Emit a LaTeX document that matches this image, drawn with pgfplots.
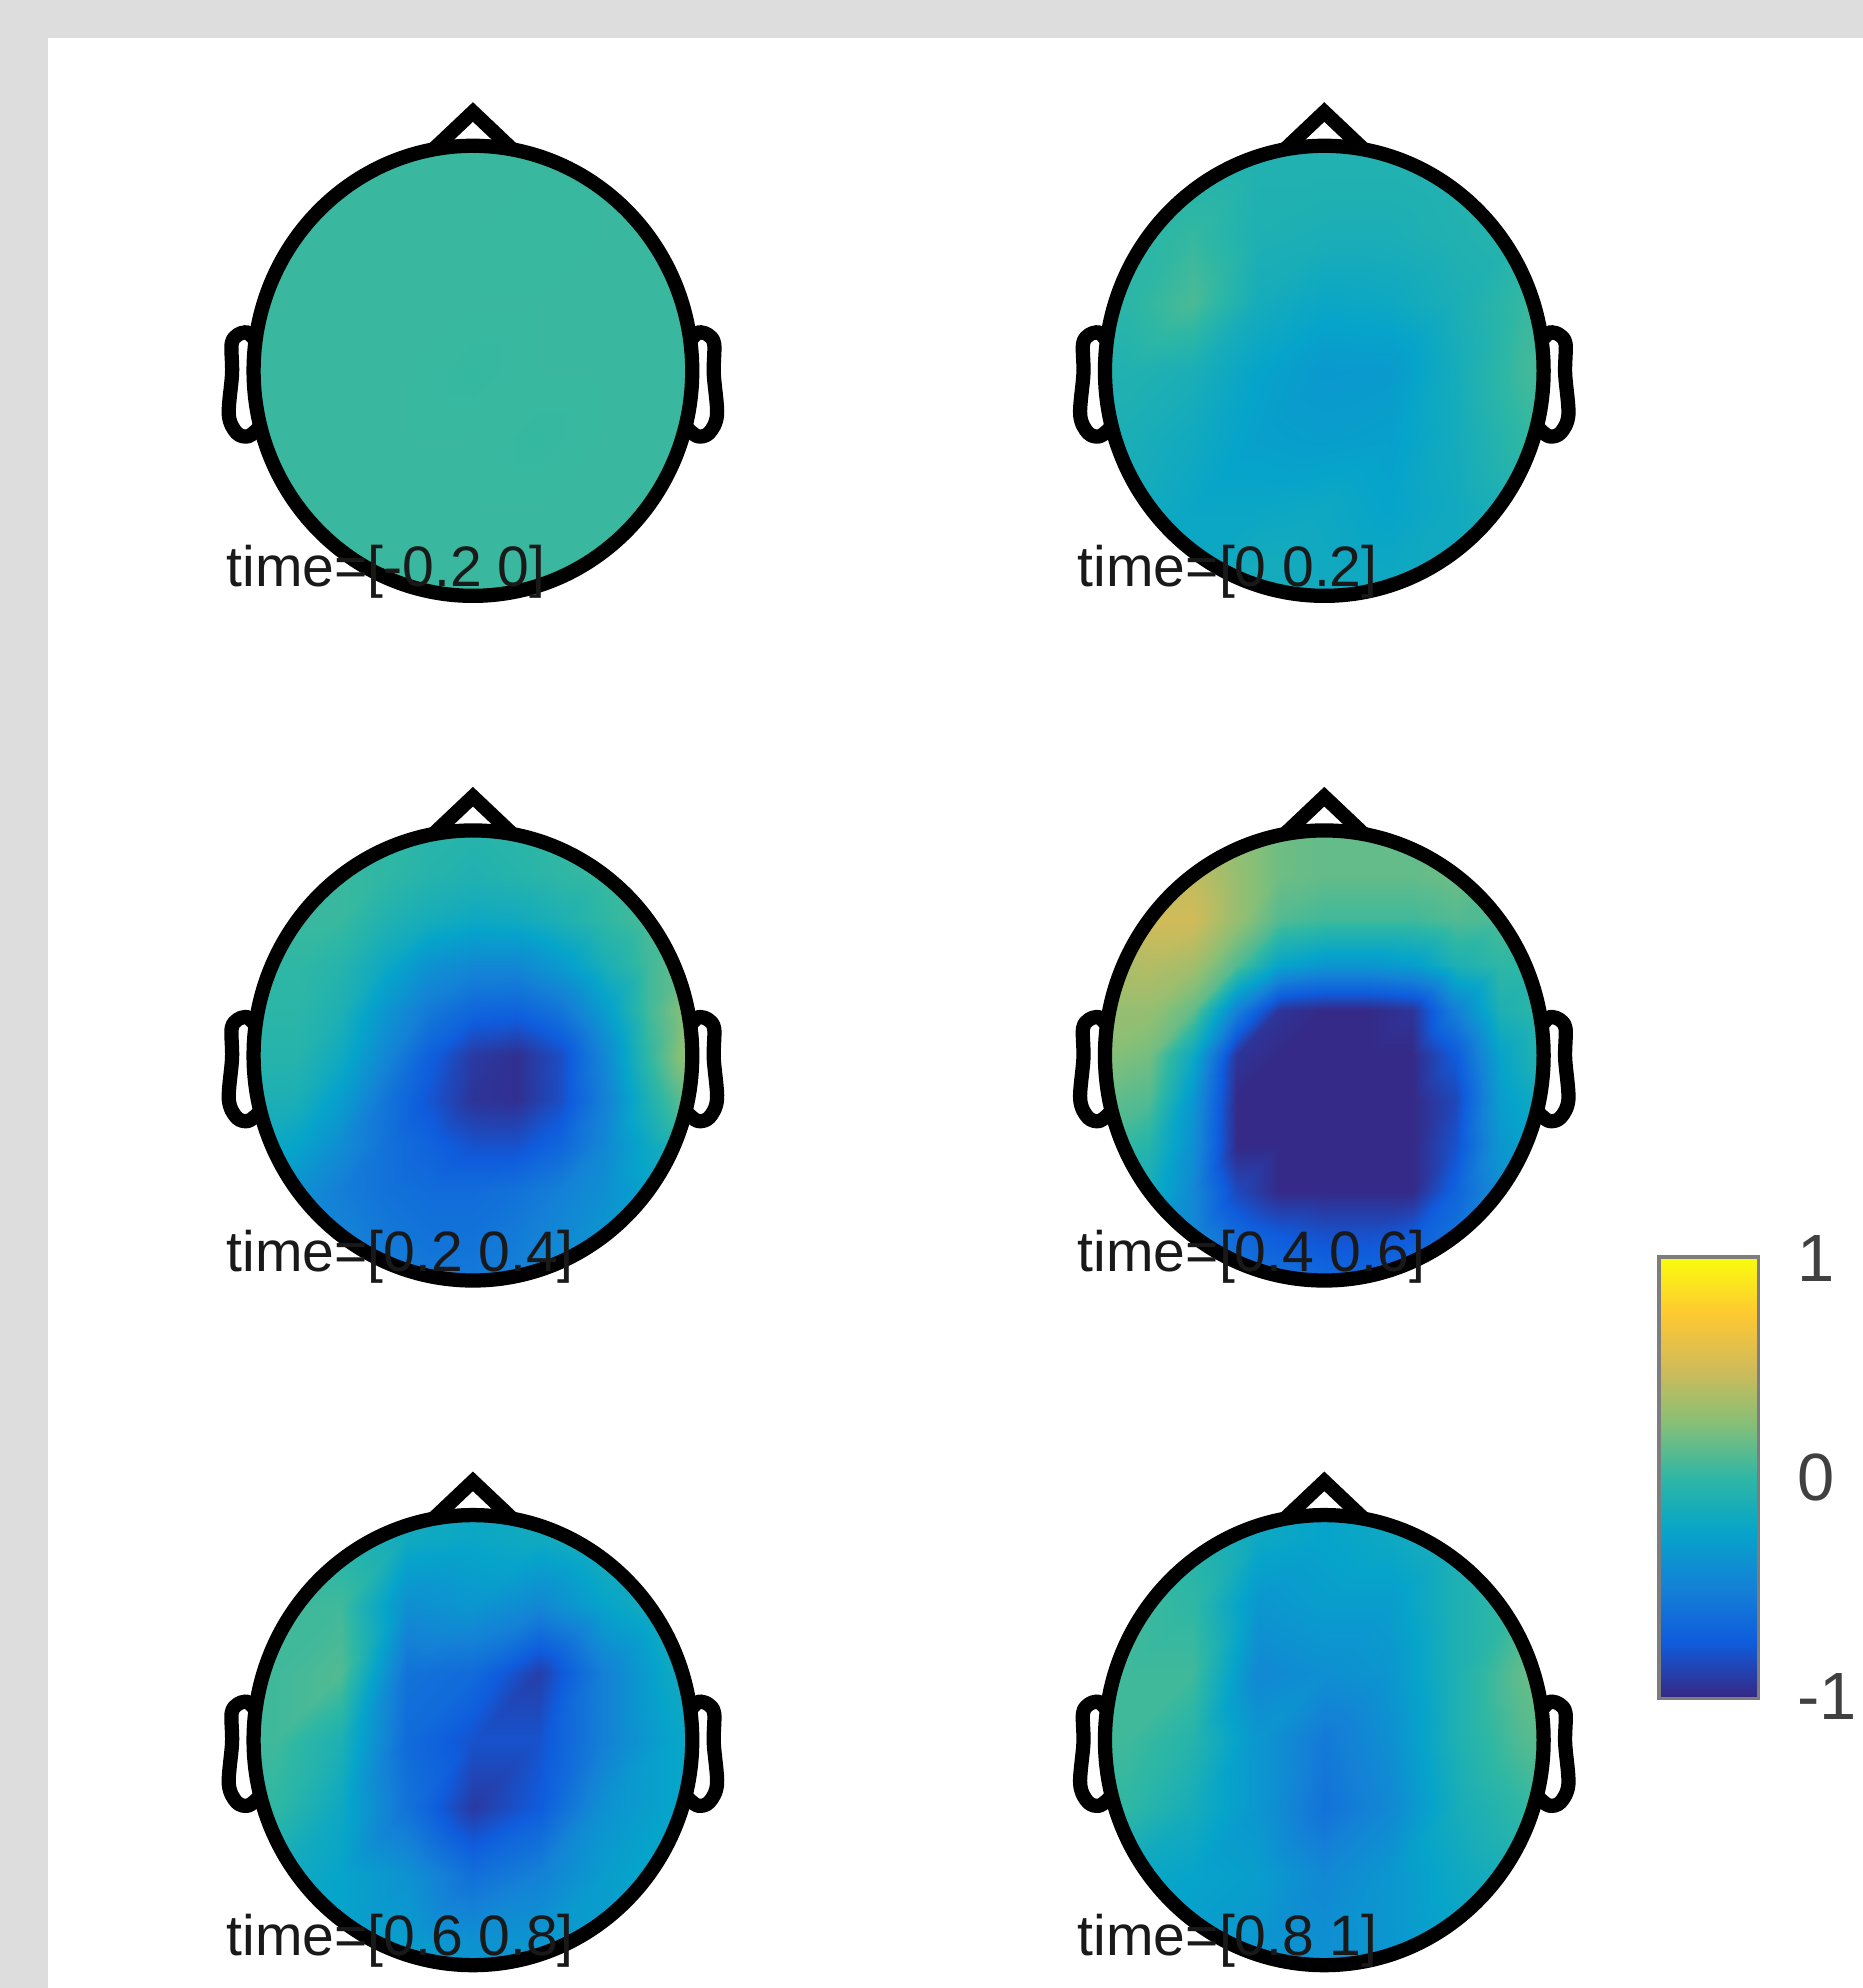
\documentclass[border=0pt]{standalone}
\usepackage{pgfplots}
\pgfplotsset{compat=1.18}
\usepackage{pgfplotstable}
\usepackage{fontspec}
\setmainfont{Liberation Sans}
\definecolor{bggray}{RGB}{221,221,221}
\definecolor{cbgray}{RGB}{125,125,125}
\pgfplotsset{colormap={parula}{rgb255=(53,42,135) rgb255=(15,92,221) rgb255=(20,129,214) rgb255=(6,164,202) rgb255=(46,183,164) rgb255=(135,191,119) rgb255=(209,187,89) rgb255=(254,200,50) rgb255=(249,251,14)}}

% coarse grid (step 0.3): a=[-0.2 0], b=[0 0.2], e=[0.6 0.8], f=[0.8 1]
\pgfplotstableread{
x y a b e f
-1.2 1.2 0.03 -0.05 0.00 0.00
-0.9 1.2 0.03 -0.05 0.00 0.00
-0.6 1.2 0.03 -0.05 -0.05 -0.05
-0.3 1.2 0.03 -0.06 -0.15 -0.20
0.0 1.2 0.03 -0.06 -0.20 -0.25
0.3 1.2 0.03 -0.06 -0.15 -0.20
0.6 1.2 0.03 -0.05 -0.10 -0.10
0.9 1.2 0.03 -0.05 -0.05 0.00
1.2 1.2 0.03 -0.05 0.00 0.05
-1.2 0.9 0.03 -0.05 0.00 0.00
-0.9 0.9 0.03 -0.05 0.00 0.00
-0.6 0.9 0.03 -0.06 -0.05 -0.05
-0.3 0.9 0.03 -0.08 -0.18 -0.20
0.0 0.9 0.03 -0.08 -0.22 -0.25
0.3 0.9 0.03 -0.08 -0.18 -0.20
0.6 0.9 0.03 -0.06 -0.10 -0.10
0.9 0.9 0.03 -0.04 -0.05 0.00
1.2 0.9 0.03 -0.04 0.00 0.05
-1.2 0.6 0.03 -0.03 0.05 0.05
-0.9 0.6 0.03 -0.03 0.05 0.05
-0.6 0.6 0.03 0.02 0.05 0.00
-0.3 0.6 0.03 -0.10 -0.40 -0.35
0.0 0.6 0.03 -0.12 -0.35 -0.30
0.3 0.6 0.025 -0.12 -0.45 -0.30
0.6 0.6 0.03 -0.08 -0.25 -0.10
0.9 0.6 0.03 -0.04 -0.10 0.05
1.2 0.6 0.03 0.00 -0.05 0.15
-1.2 0.3 0.03 -0.02 0.05 0.05
-0.9 0.3 0.03 -0.02 0.05 0.05
-0.6 0.3 0.03 0.08 0.10 0.05
-0.3 0.3 0.03 -0.15 -0.60 -0.45
0.0 0.3 0.03 -0.22 -0.65 -0.40
0.3 0.3 0.03 -0.20 -0.90 -0.35
0.6 0.3 0.03 -0.12 -0.50 -0.10
0.9 0.3 0.03 0.02 -0.20 0.15
1.2 0.3 0.03 0.08 -0.10 0.25
-1.2 0.0 0.03 -0.08 0.05 0.05
-0.9 0.0 0.03 -0.08 0.05 0.05
-0.6 0.0 0.03 -0.12 -0.10 -0.05
-0.3 0.0 0.03 -0.25 -0.65 -0.35
0.0 0.0 0.02 -0.33 -0.80 -0.55
0.3 0.0 0.03 -0.32 -0.80 -0.40
0.6 0.0 0.03 -0.15 -0.50 -0.10
0.9 0.0 0.03 0.05 -0.25 0.10
1.2 0.0 0.03 0.12 -0.15 0.20
-1.2 -0.3 0.03 -0.12 0.00 0.00
-0.9 -0.3 0.03 -0.12 0.00 0.00
-0.6 -0.3 0.03 -0.18 -0.20 -0.15
-0.3 -0.3 0.03 -0.28 -0.60 -0.35
0.0 -0.3 0.03 -0.30 -0.92 -0.60
0.3 -0.3 0.02 -0.28 -0.75 -0.45
0.6 -0.3 0.03 -0.16 -0.38 -0.15
0.9 -0.3 0.03 0.00 -0.25 0.00
1.2 -0.3 0.03 0.05 -0.15 0.10
-1.2 -0.6 0.03 -0.15 -0.15 -0.20
-0.9 -0.6 0.03 -0.15 -0.15 -0.20
-0.6 -0.6 0.03 -0.22 -0.25 -0.25
-0.3 -0.6 0.03 -0.22 -0.38 -0.30
0.0 -0.6 0.03 -0.20 -0.62 -0.45
0.3 -0.6 0.03 -0.25 -0.50 -0.35
0.6 -0.6 0.03 -0.18 -0.30 -0.20
0.9 -0.6 0.03 -0.08 -0.20 -0.10
1.2 -0.6 0.03 -0.05 -0.15 -0.05
-1.2 -0.9 0.03 -0.18 -0.20 -0.25
-0.9 -0.9 0.03 -0.18 -0.20 -0.25
-0.6 -0.9 0.03 -0.20 -0.25 -0.30
-0.3 -0.9 0.03 -0.15 -0.30 -0.35
0.0 -0.9 0.03 -0.18 -0.38 -0.40
0.3 -0.9 0.03 -0.20 -0.35 -0.35
0.6 -0.9 0.03 -0.18 -0.30 -0.25
0.9 -0.9 0.03 -0.12 -0.20 -0.15
1.2 -0.9 0.03 -0.10 -0.15 -0.10
-1.2 -1.2 0.03 -0.18 -0.20 -0.25
-0.9 -1.2 0.03 -0.18 -0.20 -0.25
-0.6 -1.2 0.03 -0.20 -0.25 -0.30
-0.3 -1.2 0.03 -0.15 -0.30 -0.35
0.0 -1.2 0.03 -0.18 -0.35 -0.40
0.3 -1.2 0.03 -0.20 -0.35 -0.35
0.6 -1.2 0.03 -0.18 -0.30 -0.25
0.9 -1.2 0.03 -0.12 -0.20 -0.15
1.2 -1.2 0.03 -0.10 -0.15 -0.10
}\topo

% fine grid (step 0.2): c=[0.2 0.4], d=[0.4 0.6]
\pgfplotstableread{
x y c d
-1.2 1.2 0.00 0.35
-1.0 1.2 0.00 0.35
-0.8 1.2 0.00 0.35
-0.6 1.2 0.00 0.30
-0.4 1.2 0.00 0.20
-0.2 1.2 -0.02 0.15
0.0 1.2 -0.02 0.15
0.2 1.2 0.00 0.15
0.4 1.2 0.02 0.15
0.6 1.2 0.05 0.15
0.8 1.2 0.08 0.12
1.0 1.2 0.10 0.10
1.2 1.2 0.10 0.10
-1.2 1.0 0.00 0.40
-1.0 1.0 0.00 0.40
-0.8 1.0 0.00 0.40
-0.6 1.0 0.00 0.35
-0.4 1.0 0.00 0.25
-0.2 1.0 -0.03 0.18
0.0 1.0 -0.05 0.15
0.2 1.0 -0.02 0.15
0.4 1.0 0.02 0.15
0.6 1.0 0.05 0.18
0.8 1.0 0.08 0.12
1.0 1.0 0.10 0.10
1.2 1.0 0.10 0.10
-1.2 0.8 0.02 0.45
-1.0 0.8 0.02 0.45
-0.8 0.8 0.02 0.50
-0.6 0.8 0.03 0.45
-0.4 0.8 0.00 0.30
-0.2 0.8 -0.05 0.18
0.0 0.8 -0.08 0.15
0.2 0.8 -0.05 0.15
0.4 0.8 0.00 0.15
0.6 0.8 0.03 0.18
0.8 0.8 0.08 0.12
1.0 0.8 0.12 0.08
1.2 0.8 0.12 0.08
-1.2 0.6 0.02 0.45
-1.0 0.6 0.02 0.45
-0.8 0.6 0.03 0.50
-0.6 0.6 0.03 0.50
-0.4 0.6 -0.08 0.30
-0.2 0.6 -0.15 0.10
0.0 0.6 -0.20 0.05
0.2 0.6 -0.18 0.05
0.4 0.6 -0.10 0.05
0.6 0.6 0.00 0.10
0.8 0.6 0.08 0.08
1.0 0.6 0.15 0.05
1.2 0.6 0.15 0.05
-1.2 0.4 0.00 0.35
-1.0 0.4 0.00 0.35
-0.8 0.4 0.00 0.40
-0.6 0.4 -0.05 0.35
-0.4 0.4 -0.20 0.10
-0.2 0.4 -0.38 -0.25
0.0 0.4 -0.45 -0.35
0.2 0.4 -0.45 -0.35
0.4 0.4 -0.32 -0.30
0.6 0.4 -0.12 -0.10
0.8 0.4 0.05 0.00
1.0 0.4 0.20 0.00
1.2 0.4 0.25 0.00
-1.2 0.2 -0.02 0.30
-1.0 0.2 -0.02 0.30
-0.8 0.2 -0.02 0.30
-0.6 0.2 -0.10 0.15
-0.4 0.2 -0.35 -0.50
-0.2 0.2 -0.55 -0.95
0.0 0.2 -0.68 -1.05
0.2 0.2 -0.70 -1.05
0.4 0.2 -0.58 -0.95
0.6 0.2 -0.30 -0.50
0.8 0.2 0.05 -0.10
1.0 0.2 0.30 0.00
1.2 0.2 0.35 0.00
-1.2 0.0 -0.05 0.25
-1.0 0.0 -0.05 0.25
-0.8 0.0 -0.05 0.20
-0.6 0.0 -0.18 -0.20
-0.4 0.0 -0.45 -0.95
-0.2 0.0 -0.72 -1.20
0.0 0.0 -0.92 -1.20
0.2 0.0 -0.97 -1.20
0.4 0.0 -0.82 -1.15
0.6 0.0 -0.45 -0.75
0.8 0.0 0.00 -0.25
1.0 0.0 0.35 -0.05
1.2 0.0 0.40 -0.05
-1.2 -0.2 -0.10 0.15
-1.0 -0.2 -0.10 0.15
-0.8 -0.2 -0.12 0.10
-0.6 -0.2 -0.30 -0.35
-0.4 -0.2 -0.58 -1.05
-0.2 -0.2 -0.78 -1.20
0.0 -0.2 -0.95 -1.20
0.2 -0.2 -0.97 -1.20
0.4 -0.2 -0.82 -1.20
0.6 -0.2 -0.50 -0.85
0.8 -0.2 -0.10 -0.30
1.0 -0.2 0.20 -0.15
1.2 -0.2 0.25 -0.15
-1.2 -0.4 -0.20 0.05
-1.0 -0.4 -0.20 0.05
-0.8 -0.4 -0.25 -0.05
-0.6 -0.4 -0.42 -0.40
-0.4 -0.4 -0.60 -1.00
-0.2 -0.4 -0.70 -1.20
0.0 -0.4 -0.80 -1.20
0.2 -0.4 -0.80 -1.20
0.4 -0.4 -0.68 -1.15
0.6 -0.4 -0.45 -0.80
0.8 -0.4 -0.20 -0.35
1.0 -0.4 -0.05 -0.20
1.2 -0.4 -0.05 -0.20
-1.2 -0.6 -0.25 -0.10
-1.0 -0.6 -0.25 -0.10
-0.8 -0.6 -0.38 -0.15
-0.6 -0.6 -0.52 -0.45
-0.4 -0.6 -0.60 -0.85
-0.2 -0.6 -0.64 -1.10
0.0 -0.6 -0.64 -1.15
0.2 -0.6 -0.60 -1.15
0.4 -0.6 -0.50 -1.00
0.6 -0.6 -0.40 -0.70
0.8 -0.6 -0.25 -0.40
1.0 -0.6 -0.15 -0.25
1.2 -0.6 -0.15 -0.25
-1.2 -0.8 -0.30 -0.20
-1.0 -0.8 -0.30 -0.20
-0.8 -0.8 -0.38 -0.25
-0.6 -0.8 -0.48 -0.45
-0.4 -0.8 -0.56 -0.65
-0.2 -0.8 -0.60 -0.75
0.0 -0.8 -0.60 -0.80
0.2 -0.8 -0.54 -0.80
0.4 -0.8 -0.45 -0.75
0.6 -0.8 -0.35 -0.60
0.8 -0.8 -0.25 -0.45
1.0 -0.8 -0.20 -0.35
1.2 -0.8 -0.20 -0.35
-1.2 -1.0 -0.30 -0.25
-1.0 -1.0 -0.30 -0.25
-0.8 -1.0 -0.35 -0.30
-0.6 -1.0 -0.45 -0.45
-0.4 -1.0 -0.50 -0.55
-0.2 -1.0 -0.55 -0.60
0.0 -1.0 -0.55 -0.65
0.2 -1.0 -0.50 -0.65
0.4 -1.0 -0.42 -0.60
0.6 -1.0 -0.35 -0.55
0.8 -1.0 -0.25 -0.45
1.0 -1.0 -0.20 -0.40
1.2 -1.0 -0.20 -0.40
-1.2 -1.2 -0.30 -0.30
-1.0 -1.2 -0.30 -0.30
-0.8 -1.2 -0.35 -0.35
-0.6 -1.2 -0.45 -0.45
-0.4 -1.2 -0.50 -0.55
-0.2 -1.2 -0.55 -0.60
0.0 -1.2 -0.55 -0.60
0.2 -1.2 -0.50 -0.60
0.4 -1.2 -0.42 -0.60
0.6 -1.2 -0.35 -0.55
0.8 -1.2 -0.25 -0.45
1.0 -1.2 -0.20 -0.40
1.2 -1.2 -0.20 -0.40
}\topofine

\pgfplotsset{headax/.style={anchor=center, x=1.73cm, y=1.775cm,
  xmin=-1.2, xmax=1.2, ymin=-1.2, ymax=1.2, hide axis,
  colormap name=parula, point meta min=-1, point meta max=1}}

\newcommand{\headoutline}[3]{%
 \begin{scope}[shift={(#1cm,#2cm)}]
  \begin{scope}[xscale=1.73, yscale=1.775, line width=3.2pt]
   \draw (0,0) circle [radius=1];
   \draw[line join=miter] (-0.18,0.984) -- (0,1.15) -- (0.18,0.984);
   \draw[line join=round] plot[smooth, tension=0.55] coordinates {(-0.981,0.125) (-1.024,0.168) (-1.043,0.170) (-1.072,0.160) (-1.1,0.12) (-1.098,-0.012) (-1.113,-0.195) (-1.077,-0.276) (-1.024,-0.291) (-0.974,-0.252)};
   \draw[line join=round] plot[smooth, tension=0.55] coordinates {(0.981,0.125) (1.024,0.168) (1.043,0.170) (1.072,0.160) (1.1,0.12) (1.098,-0.012) (1.113,-0.195) (1.077,-0.276) (1.024,-0.291) (0.974,-0.252)};
  \end{scope}
  \node[anchor=base west, inner sep=0pt, text=black!90, font=\fontsize{12.8}{15}\selectfont] at (-1.95cm,-1.70cm) {#3};
 \end{scope}}

% #1,#2 centre; #3 column; #4 table; #5 points per row
\newcommand{\topohead}[5]{%
 \begin{axis}[headax, at={(#1cm,#2cm)}]
  \clip (axis cs:0,0) ellipse [x radius=1.73cm, y radius=1.775cm];
  \addplot[surf, shader=interp, mesh/cols=#5, point meta=explicit] table[x=x, y=y, meta=#3] {#4};
 \end{axis}}

\begin{document}
\begin{tikzpicture}
\fill[bggray] (0cm,0cm) rectangle (14.69cm,15.68cm);
\fill[white] (0.38cm,0cm) rectangle (14.69cm,15.38cm);

\topohead{3.73}{12.755}{a}{\topo}{9}
\headoutline{3.73}{12.755}{time=[-0.2 0]}
\topohead{10.445}{12.755}{b}{\topo}{9}
\headoutline{10.445}{12.755}{time=[0 0.2]}
\topohead{3.73}{7.355}{c}{\topofine}{13}
\headoutline{3.73}{7.355}{time=[0.2 0.4]}
\topohead{10.445}{7.355}{d}{\topofine}{13}
\headoutline{10.445}{7.355}{time=[0.4 0.6]}
\topohead{3.73}{1.955}{e}{\topo}{9}
\headoutline{3.73}{1.955}{time=[0.6 0.8]}
\topohead{10.445}{1.955}{f}{\topo}{9}
\headoutline{10.445}{1.955}{time=[0.8 1]}

% colour bar
\begin{axis}[at={(13.10cm,2.30cm)}, anchor=south west, scale only axis,
  width=0.75cm, height=3.45cm, xmin=0, xmax=1, ymin=-1, ymax=1,
  xtick=\empty, ytick={-1,0,1}, yticklabels={-1,0,1}, yticklabel pos=right,
  major tick length=0pt,
  axis line style={draw=cbgray, line width=1.8pt},
  yticklabel style={font=\fontsize{15}{18}\selectfont, text=black!75, xshift=0.2cm},
  colormap name=parula, point meta min=-1, point meta max=1]
\addplot[surf, shader=interp, mesh/cols=2, point meta=y] coordinates {
(0,-1) (1,-1) (0,-0.75) (1,-0.75) (0,-0.5) (1,-0.5) (0,-0.25) (1,-0.25)
(0,0) (1,0) (0,0.25) (1,0.25) (0,0.5) (1,0.5) (0,0.75) (1,0.75) (0,1) (1,1)};
\end{axis}

\pgfresetboundingbox
\path[use as bounding box] (0cm,0cm) rectangle (14.69cm,15.68cm);
\end{tikzpicture}
\end{document}
